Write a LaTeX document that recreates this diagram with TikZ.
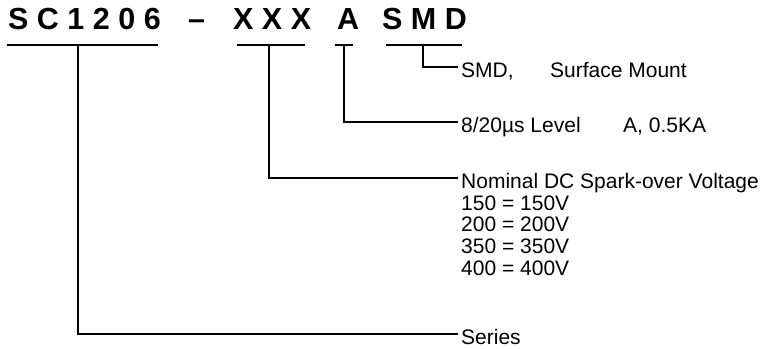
\documentclass[tikz,border=0pt]{standalone}
\usepackage{fontspec}
\setmainfont{Liberation Sans}
\usepackage{tikz}
\usetikzlibrary{positioning}
\definecolor{mydark}{RGB}{0,0,0}
\tikzset{
  codepart/.style={anchor=base west, inner sep=0pt,
    font=\fontsize{30.5}{31}\selectfont\bfseries, text=mydark},
  codebar/.style={line width=2.8pt, color=mydark},
  leader/.style={line width=2.8pt, color=mydark},
  desc/.style={anchor=west, inner xsep=3pt, inner ysep=0pt,
    text height=20pt, text depth=0pt, font=\fontsize{21}{21.7}\selectfont},
  desclist/.style={anchor=north west, inner xsep=3pt, inner ysep=0pt,
    align=left, font=\fontsize{21}{21.7}\selectfont}
}

\begin{document}
\begin{tikzpicture}[x=1pt, y=-1pt]
  \useasboundingbox (0,0) rectangle (768,348);

  % Part number
  \node[codepart] (series) at (8,29) {S C 1 2 0 6};
  \node[codepart] (dash) at (188,29) {–};
  \node[codepart] (volt) at (233,29) {X X X};
  \node[codepart] (level) at (337,29) {A};
  \node[codepart] (pkg) at (382,29) {S M D};

  % Underlines
  \draw[codebar] (7,45) -- (158,45);
  \draw[codebar] (237,45) -- (305,45);
  \draw[codebar] (335,45) -- (353,45);
  \draw[codebar] (386,45) -- (462,45);
  \coordinate (seriesbar) at (78,45);
  \coordinate (voltbar) at (269,45);
  \coordinate (levelbar) at (344,45);
  \coordinate (pkgbar) at (423,45);

  % Descriptions
  \node[desc] (pkgtxt) at (458,67) {\makebox[89pt][l]{SMD,}Surface Mount};
  \node[desc] (leveltxt) at (458,122) {\makebox[162pt][l]{8/20µs Level}A, 0.5KA};
  \node[desc] (volttxt) at (458,178) {Nominal DC Spark-over Voltage};
  \node[desclist] (voltlist) at ([yshift=-7pt]volttxt.south west)
    {150 = 150V\\200 = 200V\\350 = 350V\\400 = 400V};
  \node[desc] (seriestxt) at (458,334) {Series};

  % Leaders
  \draw[leader] (pkgbar) |- (pkgtxt.west);
  \draw[leader] (levelbar) |- (leveltxt.west);
  \draw[leader] (voltbar) |- (volttxt.west);
  \draw[leader] (seriesbar) |- (seriestxt.west);
\end{tikzpicture}
\end{document}
